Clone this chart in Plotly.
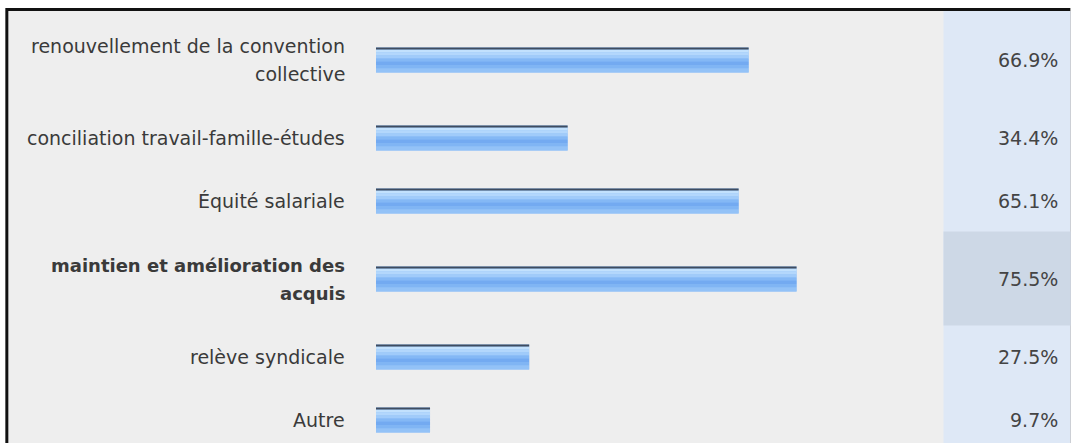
import plotly.graph_objects as go

# ---- data ----
categories = [
    "renouvellement de la convention<br>collective",
    "conciliation travail-famille-études",
    "Équité salariale",
    "maintien et amélioration des<br>acquis",
    "relève syndicale",
    "Autre",
]
values = [66.9, 34.4, 65.1, 75.5, 27.5, 9.7]
value_labels = ["66.9%", "34.4%", "65.1%", "75.5%", "27.5%", "9.7%"]

# ---- layout constants (pixels) ----
W, H = 1071, 443
L = 376            # left of bars (x = 0)
PW = 557.5         # width of 0..100 scale
R = W - L - PW
TOP = 13.5         # first row top
ROW_BASE, ROW_PER_LINE = 33, 30
LINE_GAP = 28
BAR_H = 25
COL_X = 944        # start of the value column
FONT = "DejaVu Sans"
FS = 19
FS_BOLD = 18

def fx(px):
    return (px - L) / PW

def fy(py):
    return 1 - py / H

# row geometry from number of label lines
lines = [c.split("<br>") for c in categories]
tops, centers, bottoms = [], [], []
y = TOP
for ln in lines:
    h = ROW_BASE + ROW_PER_LINE * len(ln)
    tops.append(y)
    centers.append(y + h / 2)
    bottoms.append(y + h)
    y += h

imax = values.index(max(values))

fig = go.Figure()

# gradient-like bars built from overlaid bands
bands = [
    (-BAR_H / 2, BAR_H, "#8fbff6"),
    (-10.5, 3, "#c2e1fd"),
    (-7.5, 3, "#b3d7fc"),
    (-4.5, 3, "#a0cbfa"),
    (-1.5, 3, "#84b8f5"),
    (1.5, 4, "#73aaf1"),
    (5.5, 3, "#80b5f4"),
    (8.5, 4, "#93c2f7"),
    (-BAR_H / 2, 2, "#3e4c60"),
]
for off, wd, col in bands:
    fig.add_trace(go.Bar(
        x=values, y=centers, orientation="h",
        width=[wd] * len(values), offset=off,
        marker=dict(color=col, line=dict(width=0)),
        hoverinfo="skip", showlegend=False,
    ))

shapes = [
    # black frame (top + left)
    dict(type="rect", xref="paper", yref="paper", x0=fx(5), x1=fx(W), y0=fy(8), y1=fy(H),
         fillcolor="#111111", line=dict(width=0), layer="below"),
    # grey panel
    dict(type="rect", xref="paper", yref="paper", x0=fx(8), x1=fx(W), y0=fy(11), y1=fy(H),
         fillcolor="#eeeeee", line=dict(width=0), layer="below"),
    # value column
    dict(type="rect", xref="paper", yref="paper", x0=fx(COL_X), x1=fx(W), y0=fy(11), y1=fy(H),
         fillcolor="#dee8f6", line=dict(width=0), layer="below"),
    # highlighted row (max value)
    dict(type="rect", xref="paper", yref="paper", x0=fx(COL_X), x1=fx(W),
         y0=fy(tops[imax] - 1), y1=fy(bottoms[imax]),
         fillcolor="#cdd8e6", line=dict(width=0), layer="below"),
]

annotations = []
for i, ln in enumerate(lines):
    n = len(ln)
    bold = i == imax
    for k, t in enumerate(ln):
        annotations.append(dict(
            xref="paper", yref="y", x=fx(347), y=centers[i] + (k - (n - 1) / 2) * LINE_GAP,
            text=f"<b>{t}</b>" if bold else t, showarrow=False,
            xanchor="right", yanchor="middle",
            font=dict(family=FONT, size=FS_BOLD if bold else FS, color="#3a3a3a"),
        ))
    annotations.append(dict(
        xref="paper", yref="y", x=fx(1061), y=centers[i],
        text=value_labels[i], showarrow=False, xanchor="right", yanchor="middle",
        font=dict(family=FONT, size=FS, color="#444444"),
    ))

fig.update_layout(
    width=W, height=H,
    margin=dict(l=L, r=R, t=0, b=0, pad=0),
    paper_bgcolor="white", plot_bgcolor="rgba(0,0,0,0)",
    barmode="overlay",
    xaxis=dict(range=[0, 100], visible=False, fixedrange=True),
    yaxis=dict(range=[H, 0], visible=False, fixedrange=True),
    shapes=shapes, annotations=annotations,
    showlegend=False,
)

fig.write_html(
    "out.html",
    config={"displayModeBar": False},
    post_script="document.body.style.margin='0';document.body.style.overflow='hidden';",
)
